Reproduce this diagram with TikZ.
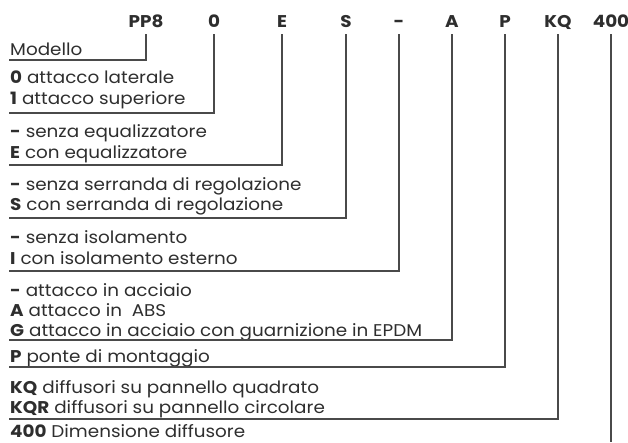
\documentclass[tikz,border=0pt]{standalone}
\usepackage{fontspec}
\setmainfont{Poppins}[FakeStretch=1.08]
\definecolor{txt}{HTML}{2E2E2E}
\definecolor{ln}{HTML}{4A4A4A}
\begin{document}
\begin{tikzpicture}[x=1pt,y=-1pt,
  hdr/.style={anchor=base, font=\fontsize{17}{19}\selectfont\bfseries, text=txt, inner sep=0pt},
  desc/.style={anchor=base west, font=\fontsize{17}{20}\selectfont, text=txt, inner sep=0pt},
  conn/.style={draw=ln, line width=1.2pt}]
\useasboundingbox (0,0) rectangle (628,442);
% header codes
\node[hdr] (h1) at (146,27) {PP8};
\node[hdr] (h2) at (214,27) {0};
\node[hdr] (h3) at (282,27) {E};
\node[hdr] (h4) at (346,27) {S};
\node[hdr] (h5) at (399,27) {-};
\node[hdr] (h6) at (452,27) {A};
\node[hdr] (h7) at (505,27) {P};
\node[hdr] (h8) at (558,27) {KQ};
\node[hdr] (h9) at (611,27) {400};
% descriptions
\node[desc] (d1) at (10,55) {Modello};
\node[desc] (d2a) at (10,83) {\textbf{0} attacco laterale};
\node[desc] (d2b) at (10,104) {\textbf{1} attacco superiore};
\node[desc] (d3a) at (10,137) {\textbf{-} senza equalizzatore};
\node[desc] (d3b) at (10,158) {\textbf{E} con equalizzatore};
\node[desc] (d4a) at (10,190) {\textbf{-} senza serranda di regolazione};
\node[desc] (d4b) at (10,210) {\textbf{S} con serranda di regolazione};
\node[desc] (d5a) at (10,243) {\textbf{-} senza isolamento};
\node[desc] (d5b) at (10,264) {\textbf{I} con isolamento esterno};
\node[desc] (d6a) at (10,296) {\textbf{-} attacco in acciaio};
\node[desc] (d6b) at (10,316) {\textbf{A} attacco in~ ABS};
\node[desc] (d6c) at (10,336) {\textbf{G} attacco in acciaio con guarnizione in EPDM};
\node[desc] (d7) at (10,362) {\textbf{P} ponte di montaggio};
\node[desc] (d8a) at (10,393) {\textbf{KQ} diffusori su pannello quadrato};
\node[desc] (d8b) at (10,413) {\textbf{KQR} diffusori su pannello circolare};
\node[desc] (d9) at (10,437) {\textbf{400} Dimensione diffusore};
% connector coordinates
\coordinate (top) at (0,34);
\coordinate (e1) at (9,60);
\coordinate (e2) at (9,113);
\coordinate (e3) at (9,165);
\coordinate (e4) at (9,218);
\coordinate (e5) at (9,271);
\coordinate (e6) at (9,340);
\coordinate (e7) at (9,367);
\coordinate (e8) at (9,419);
\coordinate (e9) at (0,442);
% connectors
\draw[conn] (h1 |- top) -- (h1 |- e1) -- (e1);
\draw[conn] (h2 |- top) -- (h2 |- e2) -- (e2);
\draw[conn] (h3 |- top) -- (h3 |- e3) -- (e3);
\draw[conn] (h4 |- top) -- (h4 |- e4) -- (e4);
\draw[conn] (h5 |- top) -- (h5 |- e5) -- (e5);
\draw[conn] (h6 |- top) -- (h6 |- e6) -- (e6);
\draw[conn] (h7 |- top) -- (h7 |- e7) -- (e7);
\draw[conn] (h8 |- top) -- (h8 |- e8) -- (e8);
\draw[conn] (h9 |- top) -- (h9 |- e9);
\end{tikzpicture}
\end{document}
